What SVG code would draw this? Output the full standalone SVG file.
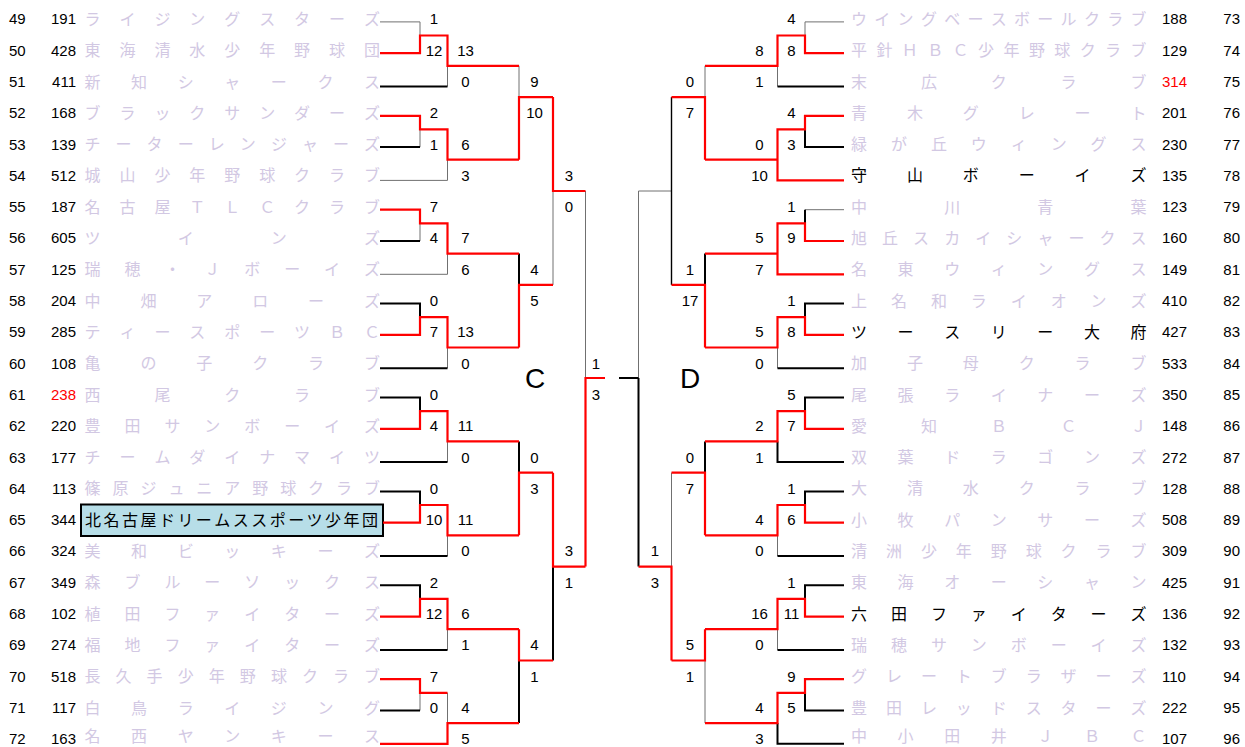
<svg xmlns="http://www.w3.org/2000/svg" width="1245" height="747" viewBox="0 0 1245 747">
<style>
.n{font-family:"Liberation Sans",Arial,sans-serif;font-size:15px;fill:#000}
.m{text-anchor:middle}
.e{text-anchor:end}
.red{fill:#f00}
.t{font-family:"Noto Sans CJK JP","Noto Sans CJK SC",sans-serif;font-size:16px;fill:#d2c8e3}
.tb{fill:#000}
.big{font-family:"Liberation Sans",Arial,sans-serif;font-size:28px;fill:#000;text-anchor:middle}
.r{stroke:#f00;stroke-width:2.2;fill:none}
.k{stroke:#000;stroke-width:2;fill:none}
.k1{stroke:#000;stroke-width:1.4;fill:none}
.g{stroke:#707070;stroke-width:1;fill:none}
</style>
<rect width="1245" height="747" fill="#fff"/>
<!-- left teams -->
<g id="t49"><text class="n" x="9" y="24.3">49</text><text class="n e" x="76" y="24.3">191</text><text class="t" x="84.5 119.4 154.4 189.3 224.3 259.2 294.1 329.1 364" y="24.9">ライジングスターズ</text></g>
<g id="t50"><text class="n" x="9" y="55.6">50</text><text class="n e" x="76" y="55.6">428</text><text class="t" x="84.5 119.4 154.4 189.3 224.3 259.2 294.1 329.1 364" y="56.2">東海清水少年野球団</text></g>
<g id="t51"><text class="n" x="9" y="86.9">51</text><text class="n e" x="76" y="86.9">411</text><text class="t" x="84.5 131.1 177.7 224.3 270.8 317.4 364" y="87.5">新知シャークス</text></g>
<g id="t52"><text class="n" x="9" y="118.2">52</text><text class="n e" x="76" y="118.2">168</text><text class="t" x="84.5 119.4 154.4 189.3 224.3 259.2 294.1 329.1 364" y="118.8">ブラックサンダーズ</text></g>
<g id="t53"><text class="n" x="9" y="149.5">53</text><text class="n e" x="76" y="149.5">139</text><text class="t" x="84.5 115.6 146.6 177.7 208.7 239.8 270.9 301.9 333 364" y="150.1">チーターレンジャーズ</text></g>
<g id="t54"><text class="n" x="9" y="180.8">54</text><text class="n e" x="76" y="180.8">512</text><text class="t" x="84.5 119.4 154.4 189.3 224.3 259.2 294.1 329.1 364" y="181.4">城山少年野球クラブ</text></g>
<g id="t55"><text class="n" x="9" y="212.1">55</text><text class="n e" x="76" y="212.1">187</text><text class="t" x="84.5 119.4 154.4 189.3 224.3 259.2 294.1 329.1 364" y="212.7">名古屋ＴＬＣクラブ</text></g>
<g id="t56"><text class="n" x="9" y="243.4">56</text><text class="n e" x="76" y="243.4">605</text><text class="t" x="84.5 177.7 270.8 364" y="244">ツインズ</text></g>
<g id="t57"><text class="n" x="9" y="274.7">57</text><text class="n e" x="76" y="274.7">125</text><text class="t" x="84.5 124.4 164.4 204.3 244.2 284.2 324.1 364" y="275.3">瑞穂・Ｊボーイズ</text></g>
<g id="t58"><text class="n" x="9" y="306">58</text><text class="n e" x="76" y="306">204</text><text class="t" x="84.5 140.4 196.3 252.2 308.1 364" y="306.6">中畑アローズ</text></g>
<g id="t59"><text class="n" x="9" y="337.3">59</text><text class="n e" x="76" y="337.3">285</text><text class="t" x="84.5 119.4 154.4 189.3 224.3 259.2 294.1 329.1 364" y="337.9">ティースポーツＢＣ</text></g>
<g id="t60"><text class="n" x="9" y="368.6">60</text><text class="n e" x="76" y="368.6">108</text><text class="t" x="84.5 140.4 196.3 252.2 308.1 364" y="369.2">亀の子クラブ</text></g>
<g id="t61"><text class="n" x="9" y="399.9">61</text><text class="n e red" x="76" y="399.9">238</text><text class="t" x="84.5 154.4 224.3 294.1 364" y="400.5">西尾クラブ</text></g>
<g id="t62"><text class="n" x="9" y="431.2">62</text><text class="n e" x="76" y="431.2">220</text><text class="t" x="84.5 124.4 164.4 204.3 244.2 284.2 324.1 364" y="431.8">豊田サンボーイズ</text></g>
<g id="t63"><text class="n" x="9" y="462.5">63</text><text class="n e" x="76" y="462.5">177</text><text class="t" x="84.5 119.4 154.4 189.3 224.3 259.2 294.1 329.1 364" y="463.1">チームダイナマイツ</text></g>
<g id="t64"><text class="n" x="9" y="493.8">64</text><text class="n e" x="76" y="493.8">113</text><text class="t" x="84.5 112.5 140.4 168.4 196.3 224.3 252.2 280.2 308.1 336.1 364" y="494.4">篠原ジュニア野球クラブ</text></g>
<g id="t65"><text class="n" x="9" y="525.1">65</text><text class="n e" x="76" y="525.1">344</text><rect x="81" y="504.5" width="302" height="31.5" fill="#b7dee8" stroke="#000" stroke-width="2"/><text class="t tb" x="85 103.5 121.9 140.4 158.9 177.4 195.8 214.3 232.8 251.2 269.7 288.2 306.6 325.1 343.6 362" y="525.7">北名古屋ドリームススポーツ少年団</text></g>
<g id="t66"><text class="n" x="9" y="556.4">66</text><text class="n e" x="76" y="556.4">324</text><text class="t" x="84.5 131.1 177.7 224.3 270.8 317.4 364" y="557">美和ビッキーズ</text></g>
<g id="t67"><text class="n" x="9" y="587.7">67</text><text class="n e" x="76" y="587.7">349</text><text class="t" x="84.5 124.4 164.4 204.3 244.2 284.2 324.1 364" y="588.3">森ブルーソックス</text></g>
<g id="t68"><text class="n" x="9" y="619">68</text><text class="n e" x="76" y="619">102</text><text class="t" x="84.5 124.4 164.4 204.3 244.2 284.2 324.1 364" y="619.6">植田ファイターズ</text></g>
<g id="t69"><text class="n" x="9" y="650.3">69</text><text class="n e" x="76" y="650.3">274</text><text class="t" x="84.5 124.4 164.4 204.3 244.2 284.2 324.1 364" y="650.9">福地ファイターズ</text></g>
<g id="t70"><text class="n" x="9" y="681.6">70</text><text class="n e" x="76" y="681.6">518</text><text class="t" x="84.5 115.6 146.6 177.7 208.7 239.8 270.9 301.9 333 364" y="682.2">長久手少年野球クラブ</text></g>
<g id="t71"><text class="n" x="9" y="712.9">71</text><text class="n e" x="76" y="712.9">117</text><text class="t" x="84.5 131.1 177.7 224.3 270.8 317.4 364" y="713.5">白鳥ライジング</text></g>
<g id="t72"><text class="n" x="9" y="743.5">72</text><text class="n e" x="76" y="743.5">163</text><text class="t" x="84.5 131.1 177.7 224.3 270.8 317.4 364" y="742.3">名西ヤンキース</text></g>
<!-- right teams -->
<g id="t73"><text class="n e" x="1240" y="24.3">73</text><text class="n" x="1162" y="24.3">188</text><text class="t" x="851 874.3 897.6 920.9 944.2 967.5 990.8 1014 1037.3 1060.6 1083.9 1107.2 1130.5" y="24.9">ウイングベースボールクラブ</text></g>
<g id="t74"><text class="n e" x="1240" y="55.6">74</text><text class="n" x="1162" y="55.6">129</text><text class="t" x="851 876.4 901.8 927.2 952.6 978 1003.5 1028.9 1054.3 1079.7 1105.1 1130.5" y="56.2">平針ＨＢＣ少年野球クラブ</text></g>
<g id="t75"><text class="n e" x="1240" y="86.9">75</text><text class="n red" x="1162" y="86.9">314</text><text class="t" x="851 920.9 990.8 1060.6 1130.5" y="87.5">末広クラブ</text></g>
<g id="t76"><text class="n e" x="1240" y="118.2">76</text><text class="n" x="1162" y="118.2">201</text><text class="t" x="851 906.9 962.8 1018.7 1074.6 1130.5" y="118.8">青木グレート</text></g>
<g id="t77"><text class="n e" x="1240" y="149.5">77</text><text class="n" x="1162" y="149.5">230</text><text class="t" x="851 890.9 930.9 970.8 1010.7 1050.7 1090.6 1130.5" y="150.1">緑が丘ウィングス</text></g>
<g id="t78"><text class="n e" x="1240" y="180.8">78</text><text class="n" x="1162" y="180.8">135</text><text class="t tb" x="851 906.9 962.8 1018.7 1074.6 1130.5" y="181.4">守山ボーイズ</text></g>
<g id="t79"><text class="n e" x="1240" y="212.1">79</text><text class="n" x="1162" y="212.1">123</text><text class="t" x="851 944.2 1037.3 1130.5" y="212.7">中川青葉</text></g>
<g id="t80"><text class="n e" x="1240" y="243.4">80</text><text class="n" x="1162" y="243.4">160</text><text class="t" x="851 882.1 913.1 944.2 975.2 1006.3 1037.4 1068.4 1099.5 1130.5" y="244">旭丘スカイシャークス</text></g>
<g id="t81"><text class="n e" x="1240" y="274.7">81</text><text class="n" x="1162" y="274.7">149</text><text class="t" x="851 897.6 944.2 990.8 1037.3 1083.9 1130.5" y="275.3">名東ウィングス</text></g>
<g id="t82"><text class="n e" x="1240" y="306">82</text><text class="n" x="1162" y="306">410</text><text class="t" x="851 890.9 930.9 970.8 1010.7 1050.7 1090.6 1130.5" y="306.6">上名和ライオンズ</text></g>
<g id="t83"><text class="n e" x="1240" y="337.3">83</text><text class="n" x="1162" y="337.3">427</text><text class="t tb" x="851 897.6 944.2 990.8 1037.3 1083.9 1130.5" y="337.9">ツースリー大府</text></g>
<g id="t84"><text class="n e" x="1240" y="368.6">84</text><text class="n" x="1162" y="368.6">533</text><text class="t" x="851 906.9 962.8 1018.7 1074.6 1130.5" y="369.2">加子母クラブ</text></g>
<g id="t85"><text class="n e" x="1240" y="399.9">85</text><text class="n" x="1162" y="399.9">350</text><text class="t" x="851 897.6 944.2 990.8 1037.3 1083.9 1130.5" y="400.5">尾張ライナーズ</text></g>
<g id="t86"><text class="n e" x="1240" y="431.2">86</text><text class="n" x="1162" y="431.2">148</text><text class="t" x="851 920.9 990.8 1060.6 1130.5" y="431.8">愛知ＢＣＪ</text></g>
<g id="t87"><text class="n e" x="1240" y="462.5">87</text><text class="n" x="1162" y="462.5">272</text><text class="t" x="851 897.6 944.2 990.8 1037.3 1083.9 1130.5" y="463.1">双葉ドラゴンズ</text></g>
<g id="t88"><text class="n e" x="1240" y="493.8">88</text><text class="n" x="1162" y="493.8">128</text><text class="t" x="851 906.9 962.8 1018.7 1074.6 1130.5" y="494.4">大清水クラブ</text></g>
<g id="t89"><text class="n e" x="1240" y="525.1">89</text><text class="n" x="1162" y="525.1">508</text><text class="t" x="851 897.6 944.2 990.8 1037.3 1083.9 1130.5" y="525.7">小牧パンサーズ</text></g>
<g id="t90"><text class="n e" x="1240" y="556.4">90</text><text class="n" x="1162" y="556.4">309</text><text class="t" x="851 885.9 920.9 955.8 990.8 1025.7 1060.6 1095.6 1130.5" y="557">清洲少年野球クラブ</text></g>
<g id="t91"><text class="n e" x="1240" y="587.7">91</text><text class="n" x="1162" y="587.7">425</text><text class="t" x="851 897.6 944.2 990.8 1037.3 1083.9 1130.5" y="588.3">東海オーシャン</text></g>
<g id="t92"><text class="n e" x="1240" y="619">92</text><text class="n" x="1162" y="619">136</text><text class="t tb" x="851 890.9 930.9 970.8 1010.7 1050.7 1090.6 1130.5" y="619.6">六田ファイターズ</text></g>
<g id="t93"><text class="n e" x="1240" y="650.3">93</text><text class="n" x="1162" y="650.3">132</text><text class="t" x="851 890.9 930.9 970.8 1010.7 1050.7 1090.6 1130.5" y="650.9">瑞穂サンボーイズ</text></g>
<g id="t94"><text class="n e" x="1240" y="681.6">94</text><text class="n" x="1162" y="681.6">110</text><text class="t" x="851 885.9 920.9 955.8 990.8 1025.7 1060.6 1095.6 1130.5" y="682.2">グレートブラザーズ</text></g>
<g id="t95"><text class="n e" x="1240" y="712.9">95</text><text class="n" x="1162" y="712.9">222</text><text class="t" x="851 885.9 920.9 955.8 990.8 1025.7 1060.6 1095.6 1130.5" y="713.5">豊田レッドスターズ</text></g>
<g id="t96"><text class="n e" x="1240" y="743.5">96</text><text class="n" x="1162" y="743.5">107</text><text class="t" x="851 897.6 944.2 990.8 1037.3 1083.9 1130.5" y="742.3">中小田井ＪＢＣ</text></g>
<!-- connectors -->
<g id="connectors">
<path class="g" d="M380 21.9H420V35.5M447.5 86.5V65.8M420 147.1V129.4M380 180.4H447.5V159.7M420 241V223.3M380 274.3H447.5V253.6M447.5 368.2V347.5M447.5 462.1V441.4M447.5 556V535.3M447.5 649.9V629.2M420 710.5V692.8M447.5 692.8V723.1M519 65.8V97.1M553 191V284.9M585.5 191V378"/>
<path class="k" d="M380 86.5H447.5M380 147.1H420M380 241H420M380 303.6H420V317.2M380 368.2H447.5M380 397.5H420V411.1M380 462.1H447.5M380 491.4H420V505M380 556H447.5M380 585.3H420V598.9M380 649.9H447.5M380 710.5H420M519 253.6V284.9M519 441.4V472.7M519 723.1V660.5M553 566.6V660.5"/>
<path class="r" d="M380 53.2H420V35.5H447.5V65.8H519M380 115.8H420V129.4H447.5V159.7H519M380 209.7H420V223.3H447.5V253.6H519M380 334.9H420V317.2H447.5V347.5H519M380 428.8H420V411.1H447.5V441.4H519M383 522.7H420V505H447.5V535.3H519M380 616.6H420V598.9H447.5V629.2H519M380 679.2H420V692.8H447.5M380 743.8H447.5V723.1H519M519 159.7V97.1H553M519 347.5V284.9H553M519 535.3V472.7H553M519 629.2V660.5H553M553 97.1V191H585.5M553 472.7V566.6H585.5M585.5 566.6V378H605"/>
<path class="g" d="M844 21.9H805V35.5M777.5 86.5V65.8M844 209.7H805M777.5 368.2V347.5M777.5 556V535.3M777.5 649.9V629.2M705 65.8V97.1M705 723.1V660.5M671.5 191H638.5M671.5 472.7V566.6M638.5 191V378"/>
<path class="k" d="M844 86.5H777.5M844 147.1H805V129.4M805 209.7V223.3M844 303.6H805V317.2M844 368.2H777.5M844 397.5H805V411.1M844 462.1H777.5V441.4M844 491.4H805V505M844 556H777.5M844 585.3H805V598.9M844 649.9H777.5M844 710.5H805V692.8M844 743.8H777.5V723.1M705 253.6V284.9M705 441.4V472.7M638.5 378V566.6M619 378H638.5"/>
<path class="k1" d="M671.5 97.1V284.9"/>
<path class="r" d="M844 53.2H805V35.5H777.5V65.8H705M844 115.8H805V129.4H777.5V159.7H705M844 180.4H777.5V159.7M844 241H805V223.3H777.5V253.6H705M844 274.3H777.5V253.6M844 334.9H805V317.2H777.5V347.5H705M844 428.8H805V411.1H777.5V441.4H705M844 522.7H805V505H777.5V535.3H705M844 616.6H805V598.9H777.5V629.2H705M844 679.2H805V692.8H777.5V723.1H705M705 159.7V97.1H671.5M705 347.5V284.9H671.5M705 535.3V472.7H671.5M705 629.2V660.5H671.5M671.5 660.5V566.6H638.5"/>
</g>
<!-- scores -->
<g id="scores" class="n m">
<text class="n m" x="434" y="24.3">1</text><text class="n m" x="434" y="55.6">12</text><text class="n m" x="434" y="118.2">2</text><text class="n m" x="434" y="149.5">1</text><text class="n m" x="434" y="212.1">7</text><text class="n m" x="434" y="243.4">4</text><text class="n m" x="434" y="306">0</text><text class="n m" x="434" y="337.3">7</text><text class="n m" x="434" y="399.9">0</text><text class="n m" x="434" y="431.2">4</text><text class="n m" x="434" y="493.8">0</text><text class="n m" x="434" y="525.1">10</text><text class="n m" x="434" y="587.7">2</text><text class="n m" x="434" y="619">12</text><text class="n m" x="434" y="681.6">7</text><text class="n m" x="434" y="712.9">0</text>
<text class="n m" x="465.5" y="55.6">13</text><text class="n m" x="465.5" y="86.9">0</text><text class="n m" x="465.5" y="149.5">6</text><text class="n m" x="465.5" y="180.8">3</text><text class="n m" x="465.5" y="243.4">7</text><text class="n m" x="465.5" y="274.7">6</text><text class="n m" x="465.5" y="337.3">13</text><text class="n m" x="465.5" y="368.6">0</text><text class="n m" x="465.5" y="431.2">11</text><text class="n m" x="465.5" y="462.5">0</text><text class="n m" x="465.5" y="525.1">11</text><text class="n m" x="465.5" y="556.4">0</text><text class="n m" x="465.5" y="619">6</text><text class="n m" x="465.5" y="650.3">1</text><text class="n m" x="465.5" y="712.9">4</text><text class="n m" x="465.5" y="743.5">5</text>
<text class="n m" x="534.5" y="86.9">9</text><text class="n m" x="534.5" y="118.2">10</text><text class="n m" x="534.5" y="274.7">4</text><text class="n m" x="534.5" y="306">5</text><text class="n m" x="534.5" y="462.5">0</text><text class="n m" x="534.5" y="493.8">3</text><text class="n m" x="534.5" y="650.3">4</text><text class="n m" x="534.5" y="681.6">1</text>
<text class="n m" x="569" y="180.8">3</text><text class="n m" x="569" y="212.1">0</text><text class="n m" x="569" y="556.4">3</text><text class="n m" x="569" y="587.7">1</text>
<text class="n m" x="596" y="368.6">1</text><text class="n m" x="596" y="399.9">3</text>
<text class="n m" x="791.5" y="24.3">4</text><text class="n m" x="791.5" y="55.6">8</text><text class="n m" x="791.5" y="118.2">4</text><text class="n m" x="791.5" y="149.5">3</text><text class="n m" x="791.5" y="212.1">1</text><text class="n m" x="791.5" y="243.4">9</text><text class="n m" x="791.5" y="306">1</text><text class="n m" x="791.5" y="337.3">8</text><text class="n m" x="791.5" y="399.9">5</text><text class="n m" x="791.5" y="431.2">7</text><text class="n m" x="791.5" y="493.8">1</text><text class="n m" x="791.5" y="525.1">6</text><text class="n m" x="791.5" y="587.7">1</text><text class="n m" x="791.5" y="619">11</text><text class="n m" x="791.5" y="681.6">9</text><text class="n m" x="791.5" y="712.9">5</text>
<text class="n m" x="759.5" y="55.6">8</text><text class="n m" x="759.5" y="86.9">1</text><text class="n m" x="759.5" y="149.5">0</text><text class="n m" x="759.5" y="180.8">10</text><text class="n m" x="759.5" y="243.4">5</text><text class="n m" x="759.5" y="274.7">7</text><text class="n m" x="759.5" y="337.3">5</text><text class="n m" x="759.5" y="368.6">0</text><text class="n m" x="759.5" y="431.2">2</text><text class="n m" x="759.5" y="462.5">1</text><text class="n m" x="759.5" y="525.1">4</text><text class="n m" x="759.5" y="556.4">0</text><text class="n m" x="759.5" y="619">16</text><text class="n m" x="759.5" y="650.3">0</text><text class="n m" x="759.5" y="712.9">4</text><text class="n m" x="759.5" y="743.5">3</text>
<text class="n m" x="690" y="86.9">0</text><text class="n m" x="690" y="118.2">7</text><text class="n m" x="690" y="274.7">1</text><text class="n m" x="690" y="306">17</text><text class="n m" x="690" y="462.5">0</text><text class="n m" x="690" y="493.8">7</text><text class="n m" x="690" y="650.3">5</text><text class="n m" x="690" y="681.6">1</text>
<text class="n m" x="655" y="556.4">1</text><text class="n m" x="655" y="587.7">3</text>
</g>
<g id="blockC"><text class="big" x="535" y="388">C</text></g>
<g id="blockD"><text class="big" x="690" y="388">D</text></g>
</svg>
